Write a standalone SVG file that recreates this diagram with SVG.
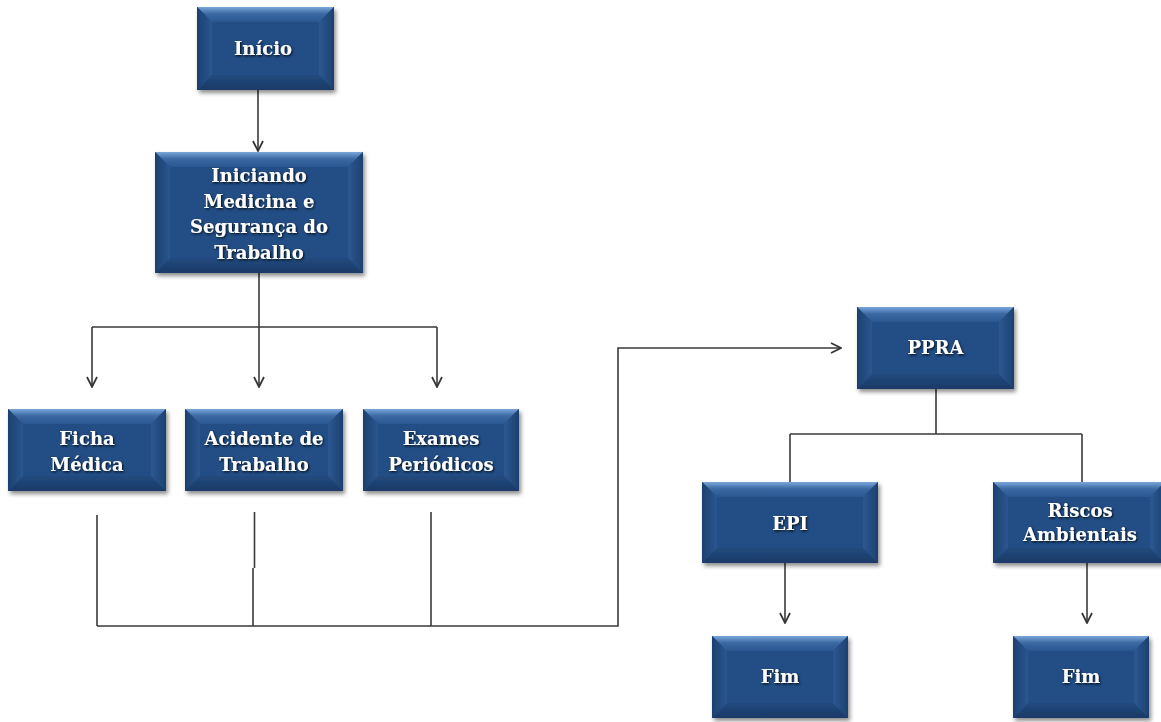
<svg xmlns="http://www.w3.org/2000/svg" width="1161" height="722" viewBox="0 0 1161 722">
<style>
.face{fill:#224d85}
.bt{fill:url(#gTop)}
.bb{fill:url(#gBot)}
.bl{fill:url(#gLeft)}
.br{fill:url(#gRight)}
.lbl{font-family:"DejaVu Serif","Liberation Serif",serif;font-weight:bold;font-size:18px;fill:#ffffff;text-anchor:middle;filter:url(#ts)}
.node{filter:url(#ds)}
.con{fill:none;stroke:#3a3a3a;stroke-width:1.6}
.arr{marker-end:url(#ah)}
</style>
<defs>
<linearGradient id="gTop" x1="0" y1="0" x2="0" y2="1"><stop offset="0" stop-color="#7aa6da"/><stop offset="0.45" stop-color="#3c6aa3"/><stop offset="1" stop-color="#2a5690"/></linearGradient>
<linearGradient id="gBot" x1="0" y1="0" x2="0" y2="1"><stop offset="0" stop-color="#224a7e"/><stop offset="1" stop-color="#1a3a66"/></linearGradient>
<linearGradient id="gLeft" x1="0" y1="0" x2="1" y2="0"><stop offset="0" stop-color="#1d4070"/><stop offset="1" stop-color="#2a5690"/></linearGradient>
<linearGradient id="gRight" x1="0" y1="0" x2="1" y2="0"><stop offset="0" stop-color="#2c5893"/><stop offset="1" stop-color="#1d416f"/></linearGradient>
<filter id="ds" x="-10%" y="-10%" width="125%" height="130%"><feDropShadow dx="2" dy="3" stdDeviation="2" flood-color="#000" flood-opacity="0.45"/></filter>
<filter id="ts" x="-10%" y="-20%" width="125%" height="150%"><feDropShadow dx="1" dy="1.2" stdDeviation="0.8" flood-color="#000" flood-opacity="0.85"/></filter>
<marker id="ah" viewBox="0 0 12 12" refX="11" refY="6" markerWidth="12" markerHeight="12" markerUnits="userSpaceOnUse" orient="auto"><path d="M1,1 L11,6 L1,11" fill="none" stroke="#333" stroke-width="1.7"/></marker>
</defs>
<rect width="1161" height="722" fill="#ffffff"/>

<g id="connectors">
<path class="con arr" d="M258,90 V151"/>
<path class="con" d="M259,273 V327 M92,327 H437"/>
<path class="con arr" d="M92,327 V387"/>
<path class="con arr" d="M259,327 V387"/>
<path class="con arr" d="M437,327 V387"/>
<path class="con" d="M97,515 V626 M254.5,512 V568 M253,568 V626 M431,512 V626"/>
<path class="con arr" d="M97,626 H618 V348 H841"/>
<path class="con" d="M936,389 V434 M790,434 H1082 M790,434 V482 M1082,434 V482"/>
<path class="con arr" d="M785,563 V623"/>
<path class="con arr" d="M1087,563 V623"/>
</g>

<g id="inicio" class="node">
<rect class="face" x="197" y="7" width="137" height="83"/>
<polygon class="bt" points="197,7 334,7 319,22 212,22"/>
<polygon class="bb" points="197,90 334,90 319,75 212,75"/>
<polygon class="bl" points="197,7 212,22 212,75 197,90"/>
<polygon class="br" points="334,7 319,22 319,75 334,90"/>
<text class="lbl" x="263" y="55">Início</text>
</g>

<g id="iniciando" class="node">
<rect class="face" x="155" y="152" width="208" height="121"/>
<polygon class="bt" points="155,152 363,152 348,167 170,167"/>
<polygon class="bb" points="155,273 363,273 348,258 170,258"/>
<polygon class="bl" points="155,152 170,167 170,258 155,273"/>
<polygon class="br" points="363,152 348,167 348,258 363,273"/>
<text class="lbl" x="259" y="182">Iniciando</text>
<text class="lbl" x="259" y="207.5">Medicina e</text>
<text class="lbl" x="259" y="233">Segurança do</text>
<text class="lbl" x="259" y="258.5">Trabalho</text>
</g>

<g id="ficha" class="node">
<rect class="face" x="8" y="409" width="158" height="82"/>
<polygon class="bt" points="8,409 166,409 151,424 23,424"/>
<polygon class="bb" points="8,491 166,491 151,476 23,476"/>
<polygon class="bl" points="8,409 23,424 23,476 8,491"/>
<polygon class="br" points="166,409 151,424 151,476 166,491"/>
<text class="lbl" x="87" y="445">Ficha</text>
<text class="lbl" x="87" y="471">Médica</text>
</g>

<g id="acidente" class="node">
<rect class="face" x="185" y="409" width="158" height="82"/>
<polygon class="bt" points="185,409 343,409 328,424 200,424"/>
<polygon class="bb" points="185,491 343,491 328,476 200,476"/>
<polygon class="bl" points="185,409 200,424 200,476 185,491"/>
<polygon class="br" points="343,409 328,424 328,476 343,491"/>
<text class="lbl" x="264" y="445">Acidente de</text>
<text class="lbl" x="264" y="471">Trabalho</text>
</g>

<g id="exames" class="node">
<rect class="face" x="363" y="409" width="156" height="82"/>
<polygon class="bt" points="363,409 519,409 504,424 378,424"/>
<polygon class="bb" points="363,491 519,491 504,476 378,476"/>
<polygon class="bl" points="363,409 378,424 378,476 363,491"/>
<polygon class="br" points="519,409 504,424 504,476 519,491"/>
<text class="lbl" x="441" y="445">Exames</text>
<text class="lbl" x="441" y="471">Periódicos</text>
</g>

<g id="ppra" class="node">
<rect class="face" x="857" y="307" width="157" height="82"/>
<polygon class="bt" points="857,307 1014,307 999,322 872,322"/>
<polygon class="bb" points="857,389 1014,389 999,374 872,374"/>
<polygon class="bl" points="857,307 872,322 872,374 857,389"/>
<polygon class="br" points="1014,307 999,322 999,374 1014,389"/>
<text class="lbl" x="935.5" y="354">PPRA</text>
</g>

<g id="epi" class="node">
<rect class="face" x="702" y="482" width="176" height="81"/>
<polygon class="bt" points="702,482 878,482 863,497 717,497"/>
<polygon class="bb" points="702,563 878,563 863,548 717,548"/>
<polygon class="bl" points="702,482 717,497 717,548 702,563"/>
<polygon class="br" points="878,482 863,497 863,548 878,563"/>
<text class="lbl" x="790" y="530">EPI</text>
</g>

<g id="riscos" class="node">
<rect class="face" x="993" y="482" width="172" height="81"/>
<polygon class="bt" points="993,482 1165,482 1150,497 1008,497"/>
<polygon class="bb" points="993,563 1165,563 1150,548 1008,548"/>
<polygon class="bl" points="993,482 1008,497 1008,548 993,563"/>
<polygon class="br" points="1165,482 1150,497 1150,548 1165,563"/>
<text class="lbl" x="1080" y="517">Riscos</text>
<text class="lbl" x="1080" y="541">Ambientais</text>
</g>

<g id="fim1" class="node">
<rect class="face" x="712" y="636" width="136" height="82"/>
<polygon class="bt" points="712,636 848,636 833,651 727,651"/>
<polygon class="bb" points="712,718 848,718 833,703 727,703"/>
<polygon class="bl" points="712,636 727,651 727,703 712,718"/>
<polygon class="br" points="848,636 833,651 833,703 848,718"/>
<text class="lbl" x="780" y="683">Fim</text>
</g>

<g id="fim2" class="node">
<rect class="face" x="1013" y="636" width="136" height="82"/>
<polygon class="bt" points="1013,636 1149,636 1134,651 1028,651"/>
<polygon class="bb" points="1013,718 1149,718 1134,703 1028,703"/>
<polygon class="bl" points="1013,636 1028,651 1028,703 1013,718"/>
<polygon class="br" points="1149,636 1134,651 1134,703 1149,718"/>
<text class="lbl" x="1081" y="683">Fim</text>
</g>
</svg>
